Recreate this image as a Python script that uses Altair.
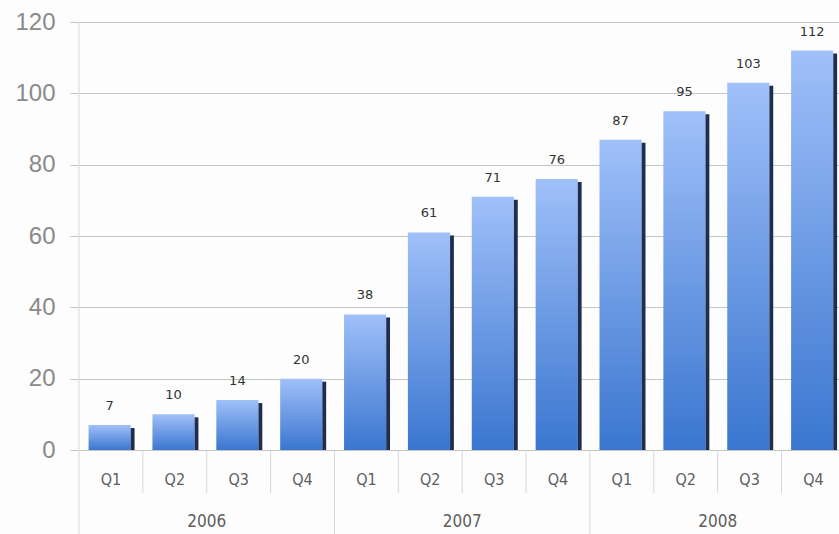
import altair as alt
import pandas as pd

quarters = ["Q1", "Q2", "Q3", "Q4"] * 3
years = ["2006", "2007", "2008"]
values = [7, 10, 14, 20, 38, 61, 71, 76, 87, 95, 103, 112]
bar_years = [y for y in years for _ in range(4)]

df = pd.DataFrame({
    "idx": list(range(len(values))),
    "quarter": quarters,
    "year": bar_years,
    "value": values,
})
ydf = pd.DataFrame({"year": years, "gidx": list(range(len(years)))})

xscale = alt.Scale(domain=[0, 11.9], nice=False, zero=False)
yscale = alt.Scale(domain=[0, 120], nice=False)

base = alt.Chart(df).transform_calculate(
    x0="datum.idx + 0.15",
    x1="datum.idx + 0.81",
    xs="datum.idx + 0.87",
    xc="datum.idx + 0.48",
    xq="datum.idx + 0.5",
)

grad = alt.Gradient(
    gradient="linear", x1=0, x2=0, y1=0, y2=1,
    stops=[alt.GradientStop(color="#a0c0f9", offset=0),
           alt.GradientStop(color="#3a76cf", offset=1)],
)

bars = base.mark_rect(color=grad).encode(
    x=alt.X("x0:Q", scale=xscale, axis=None),
    x2="x1:Q",
    y=alt.Y("value:Q", scale=yscale, axis=alt.Axis(
        values=[0, 20, 40, 60, 80, 100, 120], grid=True, gridColor="#c4c6c4",
        domain=False, ticks=True, tickColor="#c4c6c4", tickSize=9,
        labelPadding=15, labelFont="Liberation Sans", labelFontSize=24,
        labelColor="#8a8a8a", title=None)),
    y2=alt.datum(0),
)

shadow = base.mark_rect(color="#1f2e4e", yOffset=3).encode(
    x=alt.X("x1:Q", scale=xscale, axis=None),
    x2="xs:Q",
    y=alt.Y("value:Q", scale=yscale),
    y2=alt.datum(0),
)

labels = base.mark_text(font="DejaVu Sans", fontSize=13, color="#333333",
                        baseline="alphabetic", dy=-15).encode(
    x=alt.X("xc:Q", scale=xscale, axis=None),
    y=alt.Y("value:Q", scale=yscale),
    text="value:Q",
)

qlabels = base.mark_text(font="DejaVu Sans Condensed, Liberation Sans", fontSize=16,
                         color="#5e5e5e").encode(
    x=alt.X("xq:Q", scale=xscale, axis=None),
    y=alt.value(458),
    text="quarter:N",
)

qseps = base.transform_filter("datum.idx % 4 != 0").mark_rule(color="#d6d8d6").encode(
    x=alt.X("idx:Q", scale=xscale, axis=None),
    y=alt.value(428),
    y2=alt.value(471),
)

yseps = base.transform_filter("datum.idx % 4 == 0 && datum.idx > 0").mark_rule(color="#d6d8d6").encode(
    x=alt.X("idx:Q", scale=xscale, axis=None),
    y=alt.value(428),
    y2=alt.value(512),
)

axisline = base.transform_filter("datum.idx == 0").mark_rule(color="#d6d8d6").encode(
    x=alt.X("idx:Q", scale=xscale, axis=None),
    y=alt.value(0),
    y2=alt.value(512),
)

ylabels = alt.Chart(ydf).transform_calculate(yc="datum.gidx * 4 + 2").mark_text(
    font="DejaVu Sans Condensed, Liberation Sans", fontSize=17, color="#5e5e5e").encode(
    x=alt.X("yc:Q", scale=xscale, axis=None),
    y=alt.value(500),
    text="year:N",
)

chart = alt.layer(axisline, qseps, yseps, bars, shadow, labels, qlabels, ylabels).properties(
    width=760, height=428,
    padding={"left": 79, "top": 22, "right": 0, "bottom": 84},
    autosize=alt.AutoSizeParams(type="none"),
    background="#fcfdfc",
).configure_view(stroke=None)

chart.save("out.html", embed_options={"renderer": "svg", "actions": False})
